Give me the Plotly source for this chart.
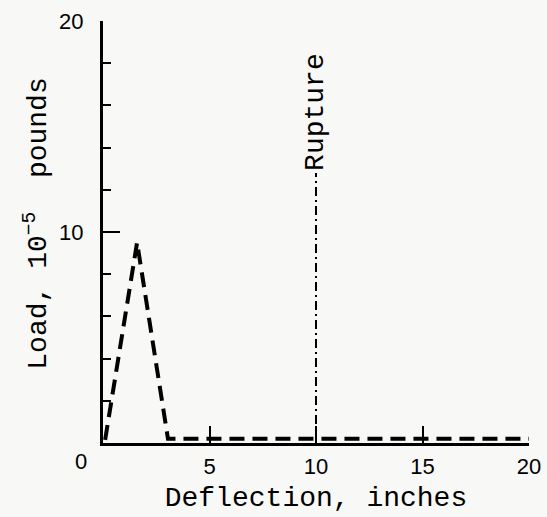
import plotly.graph_objects as go

# Load–deflection curve (dashed)
deflection = [0.1, 1.6, 3.05, 20.0]
load = [0.15, 9.5, 0.2, 0.2]

# Rupture marker
rupture_x = [10, 10]
rupture_y = [0, 12.8]
rupture_label = "Rupture"

x_tickvals = [5, 10, 15, 20]
y_tickvals = [10, 20]

x_title = "Deflection, inches"
y_title = "Load, 10<sup>−5</sup>  pounds"

mono = "Liberation Mono, Courier New, monospace"
sans = "Liberation Sans, Arial, sans-serif"
bg = "#f8f8f6"

fig = go.Figure()
fig.add_trace(go.Scatter(
    x=deflection, y=load, mode="lines",
    line=dict(color="black", width=4, dash="15px,8px"),
    cliponaxis=False, showlegend=False, hoverinfo="skip"))
fig.add_trace(go.Scatter(
    x=rupture_x, y=rupture_y, mode="lines",
    line=dict(color="black", width=2, dash="9px,4px,2px,4px"),
    cliponaxis=False, showlegend=False, hoverinfo="skip"))

fig.add_annotation(x=rupture_x[1], y=rupture_y[1], text=rupture_label,
                   textangle=-90, showarrow=False, xanchor="center", yanchor="bottom",
                   yshift=0, font=dict(family=mono, size=28, color="black"))
# origin label
fig.add_annotation(x=0, y=0, text="0", showarrow=False, xanchor="right", yanchor="top",
                   xshift=-14, yshift=-4, font=dict(family=sans, size=22, color="black"))
# y-axis title
fig.add_annotation(xref="paper", yref="paper", x=-0.157, y=0.52, text=y_title,
                   textangle=-90, showarrow=False, xanchor="center", yanchor="middle",
                   font=dict(family=mono, size=28, color="black"))

fig.update_layout(
    width=547, height=517,
    margin=dict(l=103, r=18, t=21, b=74),
    paper_bgcolor=bg, plot_bgcolor=bg,
    xaxis=dict(range=[0, 20], tickvals=x_tickvals, ticks="inside", ticklen=17, tickwidth=2,
               tickcolor="black", showline=True, linewidth=3, linecolor="black",
               showgrid=False, zeroline=False, ticklabelstandoff=2, automargin=False,
               tickfont=dict(family=sans, size=22, color="black"),
               title=dict(text=x_title, standoff=8,
                          font=dict(family=mono, size=28, color="black"))),
    yaxis=dict(range=[0, 20], tickvals=y_tickvals, ticks="inside", ticklen=17, tickwidth=2,
               tickcolor="black", showline=True, linewidth=3, linecolor="black",
               showgrid=False, zeroline=False, ticklabelstandoff=12, automargin=False,
               minor=dict(tickvals=[2, 4, 6, 8, 12, 14, 16, 18], ticks="inside",
                          ticklen=8, tickwidth=2, tickcolor="black"),
               tickfont=dict(family=sans, size=22, color="black")),
)

fig.write_html("out.html", config={"displayModeBar": False},
               post_script="document.body.style.margin='0';")
